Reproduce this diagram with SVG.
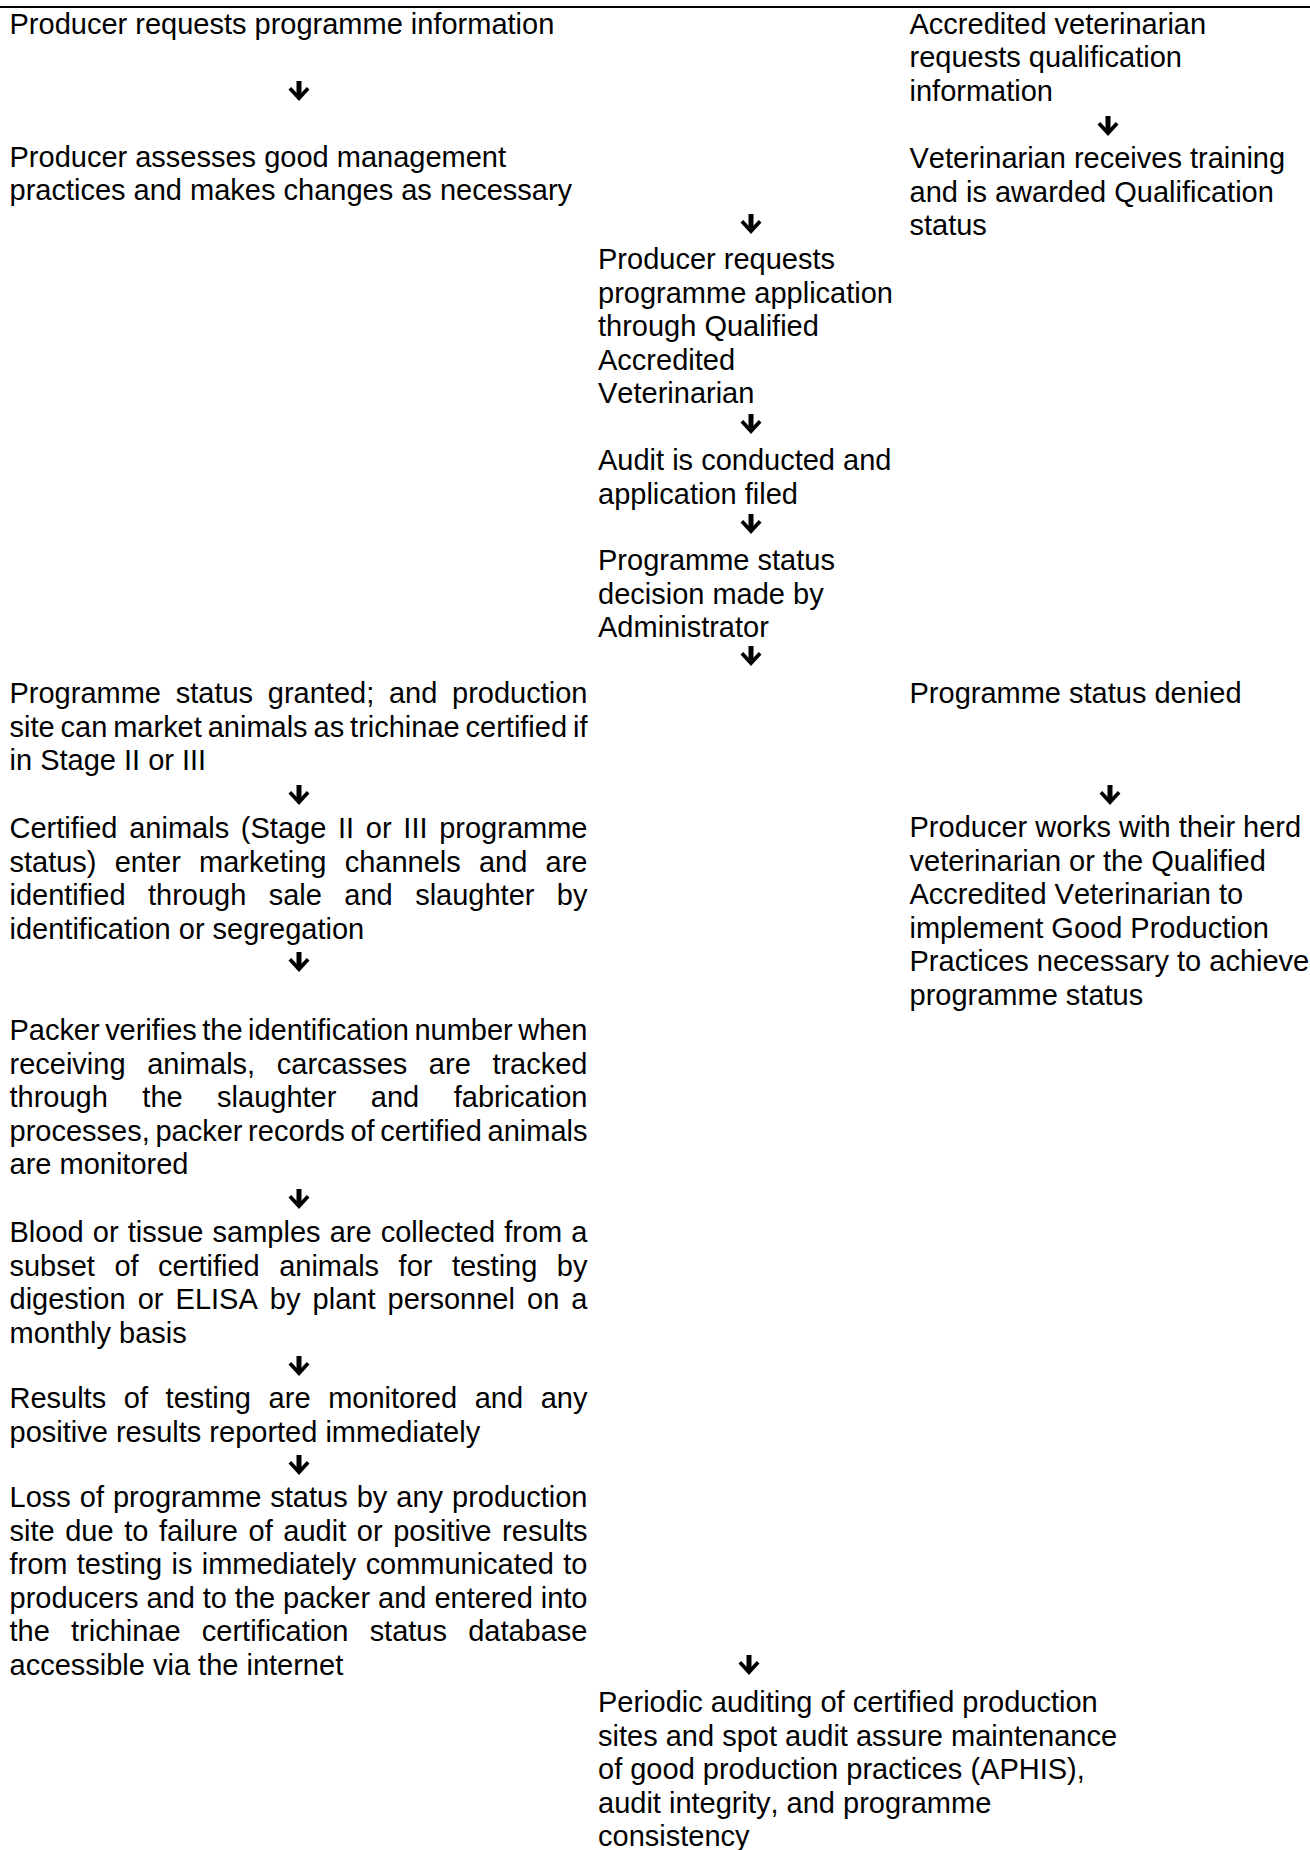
<svg xmlns="http://www.w3.org/2000/svg" xmlns:xlink="http://www.w3.org/1999/xlink" width="1310" height="1850" viewBox="0 0 1310 1850">
<style>
  .t { font-family: "Liberation Sans", Arial, sans-serif; font-size: 29px; fill: #000; font-kerning: none; }
  .rule { stroke: #000; stroke-width: 2.2; }
</style>
<defs>
  <g id="arr">
    <rect x="-2.5" y="0" width="5" height="14"/>
    <path d="M -10.5 8.5 L 0 20 L 10.5 8.5 L 7.8 6 L 0 14.2 L -7.8 6 Z"/>
  </g>
</defs>
<rect width="1310" height="1850" fill="#fff"/>
<line class="rule" x1="0" y1="7" x2="1310" y2="7"/>

<g id="n-req-info">
  <text class="t" x="9.5" y="33.5">Producer requests programme information</text>
</g>
<g id="n-assess">
  <text class="t" x="9.5" y="166.7">Producer assesses good management</text>
  <text class="t" x="9.5" y="200.2">practices and makes changes as necessary</text>
</g>
<g id="n-vet-req">
  <text class="t" x="909.5" y="33.5">Accredited veterinarian</text>
  <text class="t" x="909.5" y="67">requests qualification</text>
  <text class="t" x="909.5" y="100.5">information</text>
</g>
<g id="n-vet-train">
  <text class="t" x="909.5" y="168">Veterinarian receives training</text>
  <text class="t" x="909.5" y="201.5">and is awarded Qualification</text>
  <text class="t" x="909.5" y="235">status</text>
</g>
<g id="n-app-req">
  <text class="t" x="598" y="269">Producer requests</text>
  <text class="t" x="598" y="302.5">programme application</text>
  <text class="t" x="598" y="336">through Qualified</text>
  <text class="t" x="598" y="369.5">Accredited</text>
  <text class="t" x="598" y="403">Veterinarian</text>
</g>
<g id="n-audit">
  <text class="t" x="598" y="470">Audit is conducted and</text>
  <text class="t" x="598" y="503.5">application filed</text>
</g>
<g id="n-decision">
  <text class="t" x="598" y="570">Programme status</text>
  <text class="t" x="598" y="603.5">decision made by</text>
  <text class="t" x="598" y="637">Administrator</text>
</g>
<g id="n-granted">
  <text class="t" x="9.5" y="703" style="word-spacing:6.68px" textLength="578" lengthAdjust="spacing">Programme status granted; and production</text>
  <text class="t" x="9.5" y="736.5" style="word-spacing:-2.1px" textLength="578" lengthAdjust="spacing">site can market animals as trichinae certified if</text>
  <text class="t" x="9.5" y="770">in Stage II or III</text>
</g>
<g id="n-denied">
  <text class="t" x="909.5" y="703">Programme status denied</text>
</g>
<g id="n-works">
  <text class="t" x="909.5" y="837">Producer works with their herd</text>
  <text class="t" x="909.5" y="870.5">veterinarian or the Qualified</text>
  <text class="t" x="909.5" y="904">Accredited Veterinarian to</text>
  <text class="t" x="909.5" y="937.5">implement Good Production</text>
  <text class="t" x="909.5" y="971">Practices necessary to achieve</text>
  <text class="t" x="909.5" y="1004.5">programme status</text>
</g>
<g id="n-certified">
  <text class="t" x="9.5" y="838" style="word-spacing:3.67px" textLength="578" lengthAdjust="spacing">Certified animals (Stage II or III programme</text>
  <text class="t" x="9.5" y="871.5" style="word-spacing:10.18px" textLength="578" lengthAdjust="spacing">status) enter marketing channels and are</text>
  <text class="t" x="9.5" y="905" style="word-spacing:14.37px" textLength="578" lengthAdjust="spacing">identified through sale and slaughter by</text>
  <text class="t" x="9.5" y="938.5">identification or segregation</text>
</g>
<g id="n-packer">
  <text class="t" x="9.5" y="1040" style="word-spacing:-2.5px" textLength="578" lengthAdjust="spacing">Packer verifies the identification number when</text>
  <text class="t" x="9.5" y="1073.5" style="word-spacing:13.55px" textLength="578" lengthAdjust="spacing">receiving animals, carcasses are tracked</text>
  <text class="t" x="9.5" y="1107" style="word-spacing:26.42px" textLength="578" lengthAdjust="spacing">through the slaughter and fabrication</text>
  <text class="t" x="9.5" y="1140.5" style="word-spacing:-2.38px" textLength="578" lengthAdjust="spacing">processes, packer records of certified animals</text>
  <text class="t" x="9.5" y="1174">are monitored</text>
</g>
<g id="n-samples">
  <text class="t" x="9.5" y="1242" style="word-spacing:1.07px" textLength="578" lengthAdjust="spacing">Blood or tissue samples are collected from a</text>
  <text class="t" x="9.5" y="1275.5" style="word-spacing:11.45px" textLength="578" lengthAdjust="spacing">subset of certified animals for testing by</text>
  <text class="t" x="9.5" y="1309" style="word-spacing:4.04px" textLength="578" lengthAdjust="spacing">digestion or ELISA by plant personnel on a</text>
  <text class="t" x="9.5" y="1342.5">monthly basis</text>
</g>
<g id="n-results">
  <text class="t" x="9.5" y="1408" style="word-spacing:9.57px" textLength="578" lengthAdjust="spacing">Results of testing are monitored and any</text>
  <text class="t" x="9.5" y="1441.5">positive results reported immediately</text>
</g>
<g id="n-loss">
  <text class="t" x="9.5" y="1507" style="word-spacing:0.97px" textLength="578" lengthAdjust="spacing">Loss of programme status by any production</text>
  <text class="t" x="9.5" y="1540.5" style="word-spacing:2.54px" textLength="578" lengthAdjust="spacing">site due to failure of audit or positive results</text>
  <text class="t" x="9.5" y="1574" style="word-spacing:1.4px" textLength="578" lengthAdjust="spacing">from testing is immediately communicated to</text>
  <text class="t" x="9.5" y="1607.5" style="word-spacing:-0.1px" textLength="578" lengthAdjust="spacing">producers and to the packer and entered into</text>
  <text class="t" x="9.5" y="1641" style="word-spacing:13.1px" textLength="578" lengthAdjust="spacing">the trichinae certification status database</text>
  <text class="t" x="9.5" y="1674.5">accessible via the internet</text>
</g>
<g id="n-periodic">
  <text class="t" x="598" y="1712">Periodic auditing of certified production</text>
  <text class="t" x="598" y="1745.5">sites and spot audit assure maintenance</text>
  <text class="t" x="598" y="1779">of good production practices (APHIS),</text>
  <text class="t" x="598" y="1812.5">audit integrity, and programme</text>
  <text class="t" x="598" y="1846">consistency</text>
</g>

<g id="connectors">
  <use xlink:href="#arr" x="299" y="81"/>
  <use xlink:href="#arr" x="1108" y="116"/>
  <use xlink:href="#arr" x="751" y="214"/>
  <use xlink:href="#arr" x="751" y="414"/>
  <use xlink:href="#arr" x="751" y="514"/>
  <use xlink:href="#arr" x="751" y="646"/>
  <use xlink:href="#arr" x="299" y="785"/>
  <use xlink:href="#arr" x="1110" y="785"/>
  <use xlink:href="#arr" x="299" y="952"/>
  <use xlink:href="#arr" x="299" y="1189"/>
  <use xlink:href="#arr" x="299" y="1356"/>
  <use xlink:href="#arr" x="299" y="1455"/>
  <use xlink:href="#arr" x="749" y="1655"/>
</g>
</svg>
